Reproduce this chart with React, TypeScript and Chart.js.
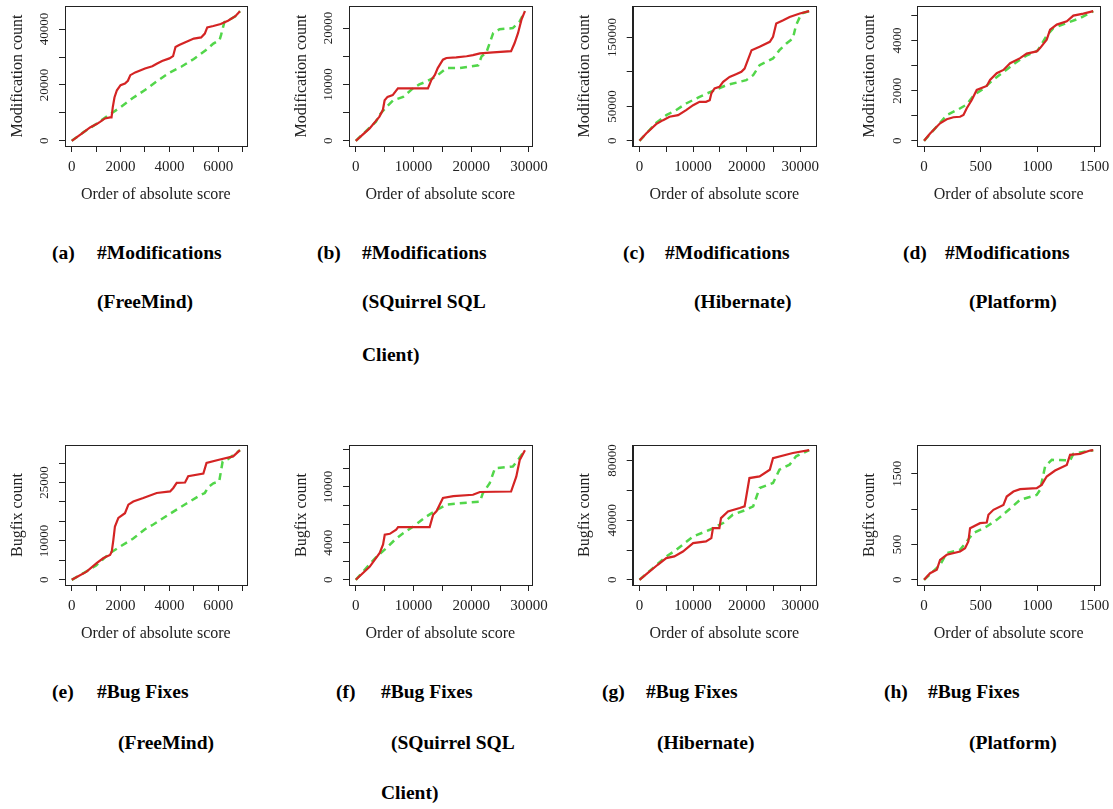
import React, { useEffect, useRef } from "react";
import { Chart, registerables } from "chart.js";

Chart.register(...registerables);

// ---------- text ----------
const X_TITLE = "Order of absolute score";
const Y_TITLE_MOD = "Modification count";
const Y_TITLE_BUG = "Bugfix count";

const CAPTION_LABELS = ["(a)", "(b)", "(c)", "(d)", "(e)", "(f)", "(g)", "(h)"];
const CAPTION_TITLES = [
  "#Modifications", "#Modifications", "#Modifications", "#Modifications",
  "#Bug Fixes", "#Bug Fixes", "#Bug Fixes", "#Bug Fixes",
];
const CAPTION_SUBS = [
  ["(FreeMind)"], ["(SQuirrel SQL", "Client)"], ["(Hibernate)"], ["(Platform)"],
  ["(FreeMind)"], ["(SQuirrel SQL", "Client)"], ["(Hibernate)"], ["(Platform)"],
];

// ---------- axis ticks ----------
const X_TICKS_FREEMIND = [0, 1000, 2000, 3000, 4000, 5000, 6000, 7000];
const X_LABELS_FREEMIND = [0, 2000, 4000, 6000];
const X_TICKS_SQUIRREL = [0, 5000, 10000, 15000, 20000, 25000, 30000];
const X_LABELS_SQUIRREL = [0, 10000, 20000, 30000];
const X_TICKS_HIBERNATE = [0, 5000, 10000, 15000, 20000, 25000, 30000];
const X_LABELS_HIBERNATE = [0, 10000, 20000, 30000];
const X_TICKS_PLATFORM = [0, 500, 1000, 1500];
const X_LABELS_PLATFORM = [0, 500, 1000, 1500];

const A_Y_TICKS = [0, 10000, 20000, 30000, 40000];
const A_Y_LABELS = [0, 20000, 40000];
const B_Y_TICKS = [0, 5000, 10000, 15000, 20000];
const B_Y_LABELS = [0, 10000, 20000];
const C_Y_TICKS = [0, 50000, 100000, 150000];
const C_Y_LABELS = [0, 50000, 150000];
const D_Y_TICKS = [0, 1000, 2000, 3000, 4000, 5000];
const D_Y_LABELS = [0, 2000, 4000];
const E_Y_TICKS = [0, 5000, 10000, 15000, 20000, 25000, 30000];
const E_Y_LABELS = [0, 10000, 25000];
const F_Y_TICKS = [0, 2000, 4000, 6000, 8000, 10000, 12000, 14000];
const F_Y_LABELS = [0, 4000, 10000];
const G_Y_TICKS = [0, 20000, 40000, 60000, 80000];
const G_Y_LABELS = [0, 40000, 80000];
const H_Y_TICKS = [0, 500, 1000, 1500];
const H_Y_LABELS = [0, 500, 1500];

// ---------- series (a) FreeMind modifications ----------
const A_RED_X = [0, 410, 750, 1020, 1160, 1360, 1570, 1630, 1680, 1750, 1850, 2000, 2180, 2300, 2400, 2600, 3000, 3300, 3500, 3700, 4000, 4150, 4250, 4400, 4700, 5000, 5300, 5450, 5550, 5800, 6100, 6400, 6700, 6890];
const A_RED_Y = [0, 2600, 4800, 6000, 6800, 8000, 8400, 8400, 12000, 15500, 18100, 19900, 20500, 21500, 23500, 24500, 25900, 26700, 27700, 28600, 29500, 30300, 33600, 34300, 35500, 36600, 37000, 38400, 40600, 41100, 41800, 43000, 44600, 46400];
const A_GREEN_X = [0, 500, 1000, 1500, 2000, 2500, 3000, 3500, 4000, 4500, 5000, 5500, 5800, 6050, 6120, 6250, 6400, 6700, 6890];
const A_GREEN_Y = [0, 3200, 6000, 9100, 12000, 15300, 18200, 21400, 24400, 26600, 29300, 32500, 34800, 36000, 38000, 42500, 43000, 44600, 46400];

// ---------- (b) SQuirrel SQL modifications ----------
const B_RED_X = [0, 2400, 4100, 4700, 5000, 5500, 6400, 7300, 9000, 12500, 13100, 13700, 14200, 15100, 15700, 17400, 19200, 20300, 21500, 23800, 26900, 27500, 28100, 28700, 29300];
const B_RED_Y = [0, 2200, 4300, 5500, 7200, 7800, 8100, 9300, 9300, 9300, 10800, 11700, 12900, 14400, 14700, 14800, 15000, 15200, 15500, 15700, 15900, 17300, 19100, 21500, 23000];
const B_GREEN_X = [0, 3500, 4100, 5500, 6500, 8200, 9900, 11000, 12200, 13900, 15700, 18000, 21200, 21800, 22600, 23800, 24900, 27200, 28400, 29300];
const B_GREEN_Y = [0, 3400, 4600, 6200, 7200, 7800, 9300, 10000, 10500, 11400, 12900, 12900, 13400, 15000, 15600, 19100, 19800, 20000, 21200, 23000];

// ---------- (c) Hibernate modifications ----------
const C_RED_X = [0, 1250, 3100, 4400, 5600, 7200, 8700, 10000, 11200, 12400, 13100, 13400, 14000, 14900, 15600, 16800, 18000, 19000, 19600, 20200, 20900, 22400, 24300, 24900, 25500, 26800, 28000, 29900, 31650];
const C_RED_Y = [0, 10700, 24200, 30000, 34900, 37300, 44500, 51800, 56600, 56600, 59000, 68700, 76000, 78400, 85700, 92900, 96800, 100200, 105000, 117100, 131600, 136500, 143800, 151000, 170400, 175200, 180000, 184900, 188300];
const C_GREEN_X = [0, 3100, 5000, 6800, 8700, 11200, 13700, 16200, 18700, 19900, 21200, 22400, 24900, 26100, 27400, 28600, 29200, 30200, 31650];
const C_GREEN_Y = [0, 26000, 37300, 44500, 54200, 63900, 72600, 80800, 85700, 88100, 95400, 109900, 119600, 131700, 141300, 148600, 168000, 184900, 188300];

// ---------- (d) Platform modifications ----------
const D_RED_X = [0, 53, 141, 200, 258, 317, 347, 376, 420, 464, 523, 552, 581, 640, 699, 758, 846, 904, 992, 1022, 1080, 1110, 1169, 1257, 1315, 1403, 1490];
const D_RED_Y = [0, 290, 700, 860, 940, 960, 1030, 1300, 1630, 2030, 2140, 2190, 2430, 2700, 2830, 3100, 3300, 3480, 3570, 3700, 4040, 4440, 4640, 4770, 5000, 5080, 5175];
const D_GREEN_X = [0, 141, 200, 300, 376, 440, 523, 600, 700, 800, 900, 1000, 1080, 1139, 1257, 1374, 1490];
const D_GREEN_Y = [0, 720, 1030, 1250, 1450, 1830, 2080, 2400, 2750, 3100, 3400, 3600, 4200, 4500, 4700, 4900, 5175];

// ---------- (e) FreeMind bug fixes ----------
const E_RED_X = [0, 610, 1020, 1300, 1570, 1640, 1700, 1770, 1910, 2180, 2320, 2520, 2930, 3480, 4030, 4160, 4300, 4640, 4770, 5390, 5520, 6070, 6610, 6890];
const E_RED_Y = [0, 2100, 4300, 5600, 6400, 7300, 10000, 13700, 15900, 17100, 19300, 20100, 21000, 22300, 22700, 23600, 24900, 25000, 26600, 27300, 30000, 30900, 31700, 33300];
const E_GREEN_X = [0, 500, 1000, 1570, 2000, 2520, 3000, 3340, 4030, 4700, 5250, 5450, 5590, 5800, 6040, 6180, 6400, 6890];
const E_GREEN_Y = [0, 1800, 3700, 6900, 8600, 10600, 13000, 14200, 17000, 19600, 21700, 22300, 23800, 24800, 25300, 30400, 31000, 33300];

// ---------- (f) SQuirrel SQL bug fixes ----------
const F_RED_X = [0, 2400, 4150, 4730, 5020, 5900, 7000, 7330, 12800, 13400, 14000, 15100, 16900, 20300, 21500, 26900, 27800, 28400, 29300];
const F_RED_Y = [0, 1400, 2900, 3800, 4850, 4950, 5400, 5670, 5670, 7000, 7400, 8800, 9000, 9150, 9450, 9500, 11100, 12900, 13950];
const F_GREEN_X = [0, 3600, 5300, 6750, 8200, 9900, 12200, 14000, 15700, 19200, 21500, 22000, 23200, 24100, 27200, 28100, 29300];
const F_GREEN_Y = [0, 2500, 3400, 4300, 5000, 5700, 6800, 7500, 8100, 8300, 8400, 9300, 10400, 12000, 12200, 12900, 13950];

// ---------- (g) Hibernate bug fixes ----------
const G_RED_X = [0, 1900, 3400, 5000, 6500, 8100, 10000, 12400, 13400, 13700, 14900, 15200, 16500, 18700, 19600, 20500, 22400, 24300, 24900, 28600, 31650];
const G_RED_Y = [0, 5600, 10100, 14600, 15700, 19000, 24600, 25800, 28000, 34700, 34700, 41400, 45900, 48200, 49300, 68300, 69400, 73900, 81700, 85100, 87000];
const G_GREEN_X = [0, 5000, 6900, 10000, 13100, 15600, 17400, 19900, 21200, 22400, 24900, 26100, 28000, 29200, 31650];
const G_GREEN_Y = [0, 15700, 20200, 29100, 33600, 38100, 43700, 47000, 49300, 61600, 65000, 73900, 77300, 82900, 87000];

// ---------- (h) Platform bug fixes ----------
const H_RED_X = [0, 53, 112, 141, 200, 317, 361, 390, 405, 493, 552, 567, 611, 699, 728, 787, 846, 992, 1036, 1080, 1154, 1257, 1286, 1374, 1462, 1490];
const H_RED_Y = [0, 94, 142, 283, 354, 401, 448, 542, 731, 802, 811, 920, 991, 1061, 1179, 1250, 1283, 1297, 1344, 1462, 1547, 1627, 1769, 1783, 1830, 1835];
const H_GREEN_X = [0, 141, 200, 317, 434, 552, 640, 728, 846, 992, 1022, 1066, 1125, 1286, 1315, 1490];
const H_GREEN_Y = [0, 212, 377, 425, 660, 755, 849, 967, 1132, 1203, 1274, 1604, 1698, 1689, 1783, 1835];

const PANELS = [
  { redX: A_RED_X, redY: A_RED_Y, greenX: A_GREEN_X, greenY: A_GREEN_Y, xTicks: X_TICKS_FREEMIND, xLabels: X_LABELS_FREEMIND, yTicks: A_Y_TICKS, yLabels: A_Y_LABELS, yTitle: Y_TITLE_MOD },
  { redX: B_RED_X, redY: B_RED_Y, greenX: B_GREEN_X, greenY: B_GREEN_Y, xTicks: X_TICKS_SQUIRREL, xLabels: X_LABELS_SQUIRREL, yTicks: B_Y_TICKS, yLabels: B_Y_LABELS, yTitle: Y_TITLE_MOD },
  { redX: C_RED_X, redY: C_RED_Y, greenX: C_GREEN_X, greenY: C_GREEN_Y, xTicks: X_TICKS_HIBERNATE, xLabels: X_LABELS_HIBERNATE, yTicks: C_Y_TICKS, yLabels: C_Y_LABELS, yTitle: Y_TITLE_MOD },
  { redX: D_RED_X, redY: D_RED_Y, greenX: D_GREEN_X, greenY: D_GREEN_Y, xTicks: X_TICKS_PLATFORM, xLabels: X_LABELS_PLATFORM, yTicks: D_Y_TICKS, yLabels: D_Y_LABELS, yTitle: Y_TITLE_MOD },
  { redX: E_RED_X, redY: E_RED_Y, greenX: E_GREEN_X, greenY: E_GREEN_Y, xTicks: X_TICKS_FREEMIND, xLabels: X_LABELS_FREEMIND, yTicks: E_Y_TICKS, yLabels: E_Y_LABELS, yTitle: Y_TITLE_BUG },
  { redX: F_RED_X, redY: F_RED_Y, greenX: F_GREEN_X, greenY: F_GREEN_Y, xTicks: X_TICKS_SQUIRREL, xLabels: X_LABELS_SQUIRREL, yTicks: F_Y_TICKS, yLabels: F_Y_LABELS, yTitle: Y_TITLE_BUG },
  { redX: G_RED_X, redY: G_RED_Y, greenX: G_GREEN_X, greenY: G_GREEN_Y, xTicks: X_TICKS_HIBERNATE, xLabels: X_LABELS_HIBERNATE, yTicks: G_Y_TICKS, yLabels: G_Y_LABELS, yTitle: Y_TITLE_BUG },
  { redX: H_RED_X, redY: H_RED_Y, greenX: H_GREEN_X, greenY: H_GREEN_Y, xTicks: X_TICKS_PLATFORM, xLabels: X_LABELS_PLATFORM, yTicks: H_Y_TICKS, yLabels: H_Y_LABELS, yTitle: Y_TITLE_BUG },
];

// ---------- layout (positions / styles) ----------
const CANVAS_H = 215;
const BOX_TOP = 6;
const BOX_BOTTOM = 146;
const ROW_TOPS = [0, 439];
const COL_LEFTS = [0, 280, 560, 840];
const COL_WIDTHS = [280, 280, 280, 273];
const BOX_LEFT = [65, 69, 72.7, 77.3];
const BOX_RIGHT = [246.7, 251.7, 256, 260];
const Y_SCALE_W = 6 + 19.2 + 32;
const X_SCALE_H = 6 + 19.2 + 33;

const CAPTION_POS = [
  { lx: 52, tx: 97, sx: [97] },
  { lx: 317, tx: 362, sx: [362, 362] },
  { lx: 623, tx: 665, sx: [694] },
  { lx: 903, tx: 945, sx: [969] },
  { lx: 52, tx: 97, sx: [118] },
  { lx: 336, tx: 381, sx: [391, 381] },
  { lx: 602, tx: 646, sx: [657] },
  { lx: 884, tx: 928, sx: [969] },
];
const CAPTION_ROW_Y = [
  [253, 302, 355],
  [692, 743, 793],
];

const RED = "#d42424";
const GREEN = "#52d64a";
const INK = "#222";
const SERIF = '"Liberation Serif", "Times New Roman", serif';

const rAxesPlugin = {
  id: "rAxes",
  afterDraw(chart: any, _args: any, opts: any) {
    const { ctx, chartArea: a } = chart;
    const xs = chart.scales.x;
    const ys = chart.scales.y;
    ctx.save();
    ctx.strokeStyle = INK;
    ctx.lineWidth = 1;
    const l = Math.round(a.left) + 0.5;
    const t = Math.round(a.top) + 0.5;
    const r = Math.round(a.right) + 0.5;
    const b = Math.round(a.bottom) + 0.5;
    ctx.strokeRect(l, t, r - l, b - t);
    ctx.fillStyle = INK;
    ctx.textAlign = "center";
    ctx.textBaseline = "middle";
    ctx.font = "15px " + SERIF;
    (opts.xLabels || []).forEach((v: number) => {
      ctx.fillText(String(v), xs.getPixelForValue(v), a.bottom + 21);
    });
    ctx.font = "13px " + SERIF;
    (opts.yLabels || []).forEach((v: number) => {
      ctx.save();
      ctx.translate(a.left - 20, ys.getPixelForValue(v));
      ctx.rotate(-Math.PI / 2);
      ctx.fillText(String(v), 0, 0);
      ctx.restore();
    });
    ctx.restore();
  },
};

function toPoints(xs: number[], ys: number[]) {
  return xs.map((x, i) => ({ x, y: ys[i] }));
}

function Panel({ idx }: { idx: number }) {
  const ref = useRef<HTMLCanvasElement | null>(null);
  const p = PANELS[idx];
  const col = idx % 4;
  const row = Math.floor(idx / 4);
  const w = COL_WIDTHS[col];

  useEffect(() => {
    if (!ref.current) return;
    const xMax = Math.max(...p.redX, ...p.greenX);
    const yMax = Math.max(...p.redY, ...p.greenY);
    const xTicks = p.xTicks;
    const yTicks = p.yTicks;
    const gridCommon = {
      display: true,
      drawOnChartArea: false,
      drawTicks: true,
      tickLength: 6,
      color: INK,
      lineWidth: 1,
    };
    const chart = new Chart(ref.current, {
      type: "line",
      data: {
        datasets: [
          {
            data: toPoints(p.redX, p.redY),
            borderColor: RED,
            borderWidth: 2.2,
            pointRadius: 0,
            tension: 0,
            fill: false,
          },
          {
            data: toPoints(p.greenX, p.greenY),
            borderColor: GREEN,
            borderWidth: 2.5,
            borderDash: [7, 5],
            pointRadius: 0,
            tension: 0,
            fill: false,
          },
        ],
      },
      options: {
        responsive: false,
        animation: false,
        events: [],
        layout: {
          padding: {
            left: BOX_LEFT[col] - Y_SCALE_W,
            right: w - BOX_RIGHT[col],
            top: BOX_TOP,
            bottom: CANVAS_H - BOX_BOTTOM - X_SCALE_H,
          },
        },
        plugins: {
          legend: { display: false },
          tooltip: { enabled: false },
          rAxes: { xLabels: p.xLabels, yLabels: p.yLabels },
        } as any,
        scales: {
          x: {
            type: "linear",
            min: -0.04 * xMax,
            max: 1.04 * xMax,
            afterBuildTicks: (s: any) => {
              s.ticks = xTicks.map((v) => ({ value: v }));
            },
            ticks: { display: false },
            grid: gridCommon,
            border: { display: true, color: INK, width: 1 },
            title: {
              display: true,
              text: X_TITLE,
              color: INK,
              font: { family: SERIF, size: 16, lineHeight: 1.2 },
              padding: { top: 33, bottom: 0 },
            },
          },
          y: {
            type: "linear",
            min: -0.04 * yMax,
            max: 1.04 * yMax,
            afterBuildTicks: (s: any) => {
              s.ticks = yTicks.map((v) => ({ value: v }));
            },
            ticks: { display: false },
            grid: gridCommon,
            border: { display: true, color: INK, width: 1 },
            title: {
              display: true,
              text: p.yTitle,
              color: INK,
              font: { family: SERIF, size: 16, lineHeight: 1.2 },
              padding: { top: 0, bottom: 32 },
            },
          },
        },
      },
      plugins: [rAxesPlugin],
    } as any);
    return () => chart.destroy();
  }, [idx]);

  return (
    <canvas
      ref={ref}
      width={w}
      height={CANVAS_H}
      style={{
        position: "absolute",
        left: COL_LEFTS[col],
        top: ROW_TOPS[row],
        width: w,
        height: CANVAS_H,
      }}
    />
  );
}

function Caption({ idx }: { idx: number }) {
  const pos = CAPTION_POS[idx];
  const rowY = CAPTION_ROW_Y[Math.floor(idx / 4)];
  const style = (x: number, y: number): React.CSSProperties => ({
    position: "absolute",
    left: x,
    top: y - 10,
    lineHeight: "20px",
    fontFamily: SERIF,
    fontWeight: "bold",
    fontSize: 19.5,
    color: "#000",
    whiteSpace: "nowrap",
  });
  return (
    <>
      <div style={style(pos.lx, rowY[0])}>{CAPTION_LABELS[idx]}</div>
      <div style={style(pos.tx, rowY[0])}>{CAPTION_TITLES[idx]}</div>
      {CAPTION_SUBS[idx].map((s, i) => (
        <div key={i} style={style(pos.sx[i], rowY[i + 1])}>
          {s}
        </div>
      ))}
    </>
  );
}

export default function App() {
  const ids = [0, 1, 2, 3, 4, 5, 6, 7];
  return (
    <div
      style={{
        position: "absolute",
        left: 0,
        top: 0,
        width: 1113,
        height: 809,
        overflow: "hidden",
        background: "#fff",
      }}
    >
      {ids.map((i) => (
        <Panel key={"p" + i} idx={i} />
      ))}
      {ids.map((i) => (
        <Caption key={"c" + i} idx={i} />
      ))}
    </div>
  );
}
